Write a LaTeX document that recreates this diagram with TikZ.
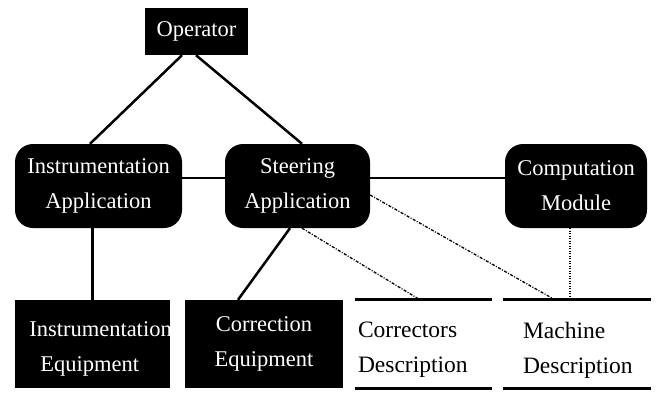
\documentclass[tikz,border=0pt]{standalone}
\usepackage{fontspec}
\setmainfont{Liberation Serif}
\newfontfamily\diagserif{Liberation Serif}
\usetikzlibrary{calc}
\begin{document}
\begin{tikzpicture}[x=1pt,y=-1pt,
  boxtext/.style={font=\diagserif\fontsize{22.5}{35}\selectfont, text=white, align=center},
  sqbox/.style={boxtext, fill=black, inner sep=0pt},
  rndbox/.style={boxtext, fill=black, rounded corners=18pt, inner sep=0pt, minimum height=84pt},
  store/.style={inner sep=0pt, minimum height=88pt},
  storetext/.style={font=\diagserif\fontsize{23.5}{35}\selectfont, align=left, inner sep=0pt},
  solidlink/.style={line width=2.5pt},
  dashdot/.style={line width=1.3pt, dash pattern=on 3pt off 1.5pt on 1pt off 1.5pt},
  dottedlink/.style={line width=1.1pt, dash pattern=on 1pt off 1.5pt},
  storeline/.style={line width=3pt}]
\useasboundingbox (0,0) rectangle (656,392);

% boxes
\node[sqbox, minimum width=103pt, minimum height=47pt] (op) at (196.5,31.5) {Operator};
\node[rndbox, minimum width=167pt] (instapp) at (98.5,186) {Instrumentation\\Application};
\node[rndbox, minimum width=145pt] (steer) at (297.5,186) {Steering\\Application};
\node[rndbox, minimum width=142pt] (comp) at (576,186) {Computation\\Module};
\node[sqbox, minimum width=155pt, minimum height=88pt] (insteq) at (92.5,344) {};
\node[boxtext, align=left, inner sep=0pt] (insteqtxt) at (100.5,349) {Instrumentation\\\hspace*{11pt}Equipment};
\node[sqbox, minimum width=158pt, minimum height=88pt] (correq) at (264,344) {Correction\\Equipment};

% data stores
\node[store, minimum width=137pt] (corr) at (423.5,344) {};
\node[storetext, anchor=west] (corrtxt) at ([xshift=3pt, yshift=-6pt]corr.west) {Correctors\\Description};
\node[store, minimum width=148pt] (mach) at (577,344) {};
\node[storetext, anchor=west] (machtxt) at ([xshift=20pt, yshift=-6pt]mach.west) {Machine\\Description};
\draw[storeline] (corr.north west) -- (corr.north east);
\draw[storeline] (corr.south west) -- (corr.south east);
\draw[storeline] (mach.north west) -- (mach.north east);
\draw[storeline] (mach.south west) -- (mach.south east);

% connectors
\draw[solidlink] ([xshift=-14.5pt]op.south) -- ([xshift=-8.5pt]instapp.north);
\draw[solidlink] ([xshift=-0.5pt]op.south) -- ([xshift=4.5pt]steer.north);
\draw[solidlink] ([yshift=8pt]instapp.east) -- ([yshift=8pt]steer.west);
\draw[solidlink] ([yshift=8pt]steer.east) -- ([yshift=8pt]comp.west);
\draw[solidlink] (insteq.north |- instapp.south) -- (insteq.north);
\draw[solidlink] ([xshift=-7.5pt]steer.south) -- ([xshift=-26pt]correq.north);
\draw[dashdot] ([xshift=4.5pt]steer.south) -- ([xshift=-3.5pt]corr.north);
\draw[dashdot] ([yshift=-9pt]steer.east) -- ([xshift=-22pt]mach.north);
\draw[dottedlink] ([xshift=-6pt]comp.south) -- ([xshift=-7pt]mach.north);
\end{tikzpicture}
\end{document}
